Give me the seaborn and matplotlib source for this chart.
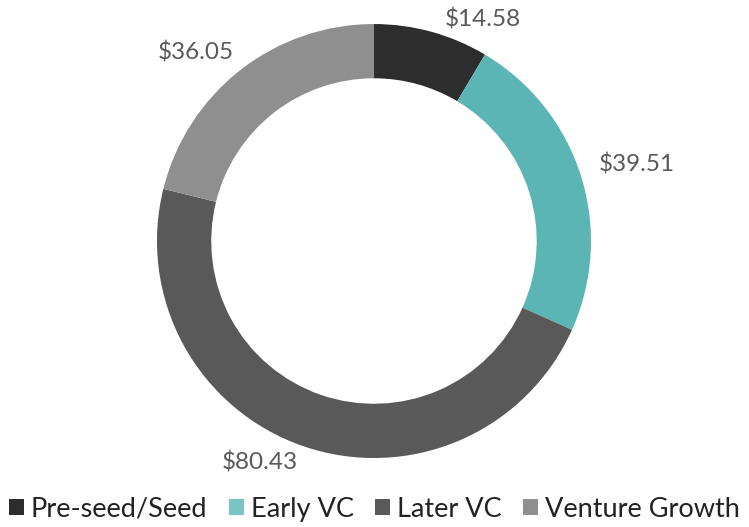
import numpy as np
import matplotlib.pyplot as plt
import seaborn as sns

categories = ["Pre-seed/Seed", "Early VC", "Later VC", "Venture Growth"]
values = [14.58, 39.51, 80.43, 36.05]
value_labels = ["$14.58", "$39.51", "$80.43", "$36.05"]
colors = ["#2d2d2d", "#5bb5b5", "#595959", "#8f8f8f"]
legend_colors = ["#2d2d2d", "#7ac4c4", "#595959", "#8f8f8f"]
# label nudges (points) away from each wedge's outer midpoint
label_offsets = [(37, 9), (40, 8), (-31, -12), (-32, 13)]

sns.set_theme(style="white")
plt.rcParams["font.family"] = ["Lato", "DejaVu Sans"]

fig = plt.figure(figsize=(7.49, 5.27), dpi=100)
ax = fig.add_axes([0.2096, 0.1309, 0.5794, 0.8235])

wedges, _ = ax.pie(values, colors=colors, startangle=90, counterclock=False,
                   radius=1.0, wedgeprops=dict(width=0.25, edgecolor="none"))
ax.set_xlim(-1, 1)
ax.set_ylim(-1, 1)
ax.set_aspect("auto")
ax.axis("off")

for w, lab, off in zip(wedges, value_labels, label_offsets):
    ang = np.deg2rad((w.theta1 + w.theta2) / 2)
    ax.annotate(lab, (np.cos(ang), np.sin(ang)), xytext=off, textcoords="offset points",
                ha="center", va="center", fontsize=17.5, color="#595959",
                annotation_clip=False)

leg = fig.legend(wedges, categories, loc="center", bbox_to_anchor=(0.5, 0.034),
                 ncol=4, frameon=False, fontsize=19.5, handlelength=0.55, handleheight=0.55,
                 handletextpad=0.25, columnspacing=0.8, borderpad=0)
for h, c in zip(leg.legend_handles, legend_colors):
    h.set_facecolor(c)
for t in leg.get_texts():
    t.set_color("#222222")

fig.savefig("out.png", dpi=100)
